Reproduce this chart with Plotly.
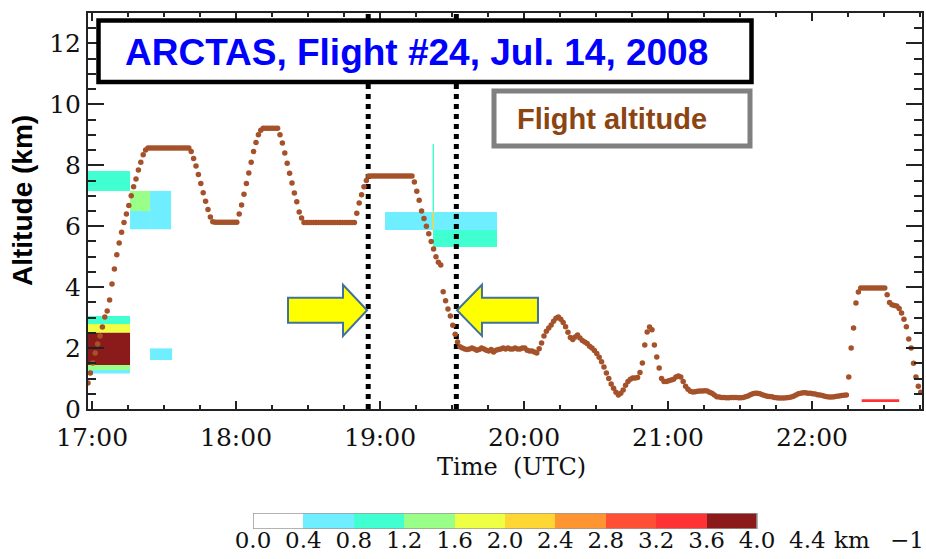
import plotly.graph_objects as go

W, H = 926, 559

# ---------------- data ----------------
# Flight altitude (km), one sample per minute, first sample at 16:58:20 UTC
flight_start_hour = 16.972
flight_alt_km = [
    0.85, 1.18, 1.51, 1.84, 2.13, 2.40, 2.69, 3.02, 3.22, 3.58,
    4.10, 4.60, 5.06, 5.45, 5.80, 6.12, 6.40, 6.68, 7.00, 7.30,
    7.55, 7.85, 8.10, 8.35, 8.50, 8.57, 8.57, 8.57, 8.57, 8.57,
    8.57, 8.57, 8.57, 8.57, 8.57, 8.57, 8.57, 8.57, 8.57, 8.57,
    8.57, 8.57, 8.57, 8.45, 8.22, 7.98, 7.70, 7.40, 7.10, 6.82,
    6.55, 6.30, 6.15, 6.13, 6.13, 6.13, 6.13, 6.13, 6.13, 6.13,
    6.13, 6.13, 6.13, 6.40, 6.70, 7.05, 7.40, 7.75, 8.10, 8.45,
    8.75, 9.00, 9.15, 9.22, 9.22, 9.22, 9.22, 9.22, 9.22, 9.22,
    9.00, 8.73, 8.40, 8.07, 7.74, 7.42, 7.09, 6.80, 6.47, 6.27,
    6.12, 6.12, 6.12, 6.12, 6.12, 6.12, 6.12, 6.12, 6.12, 6.12,
    6.12, 6.12, 6.12, 6.12, 6.12, 6.12, 6.12, 6.12, 6.12, 6.12,
    6.12, 6.12, 6.43, 6.76, 7.03, 7.30, 7.50, 7.65, 7.65, 7.65,
    7.65, 7.65, 7.65, 7.65, 7.65, 7.65, 7.65, 7.65, 7.65, 7.65,
    7.65, 7.65, 7.65, 7.65, 7.65, 7.65, 7.45, 7.15, 6.85, 6.50,
    6.25, 6.00, 5.75, 5.50, 5.25, 5.00, 4.82, 4.73, 3.85, 3.55,
    3.28, 3.05, 2.75, 2.45, 2.20, 2.04, 2.00, 1.97, 1.95, 1.97,
    2.00, 1.97, 1.93, 1.95, 2.00, 1.97, 1.93, 1.90, 1.95, 1.87,
    1.93, 1.95, 1.97, 2.00, 1.97, 2.00, 1.97, 1.97, 2.00, 1.97,
    1.97, 2.00, 2.00, 1.93, 1.90, 1.90, 1.87, 1.84, 1.98, 2.17,
    2.40, 2.55, 2.66, 2.76, 2.88, 2.98, 3.02, 2.95, 2.84, 2.70,
    2.52, 2.35, 2.28, 2.36, 2.43, 2.33, 2.25, 2.20, 2.15, 2.06,
    2.00, 1.92, 1.82, 1.70, 1.55, 1.38, 1.18, 1.00, 0.82, 0.68,
    0.55, 0.46, 0.52, 0.62, 0.78, 0.90, 0.98, 1.02, 1.02, 1.03,
    1.20, 1.51, 2.10, 2.53, 2.69, 2.60, 2.10, 1.71, 1.35, 1.00,
    0.90, 0.90, 0.93, 0.95, 0.98, 1.05, 1.08, 1.05, 0.90, 0.75,
    0.65, 0.58, 0.56, 0.57, 0.58, 0.59, 0.59, 0.60, 0.59, 0.55,
    0.52, 0.46, 0.40, 0.39, 0.38, 0.38, 0.37, 0.37, 0.38, 0.38,
    0.38, 0.37, 0.37, 0.38, 0.40, 0.43, 0.47, 0.50, 0.52, 0.52,
    0.50, 0.47, 0.44, 0.42, 0.41, 0.40, 0.38, 0.37, 0.36, 0.36,
    0.36, 0.37, 0.38, 0.39, 0.42, 0.46, 0.50, 0.52, 0.53, 0.53,
    0.52, 0.52, 0.50, 0.49, 0.47, 0.46, 0.44, 0.42, 0.40, 0.39,
    0.39, 0.40, 0.42, 0.43, 0.44, 0.45, 0.46, 1.05, 2.00, 2.66,
    3.48, 3.84, 3.97, 3.97, 3.97, 3.97, 3.97, 3.97, 3.97, 3.97,
    3.97, 3.97, 3.97, 3.75, 3.50, 3.42, 3.40, 3.38, 3.30, 3.15,
    2.95, 2.70, 2.30, 2.00, 1.50, 1.05, 0.75, 0.55,
]

# Extinction layers (time in hours UTC, altitude in km, value in km^-1)
layer_t_start = [16.972, 16.972, 16.972, 16.972, 16.972, 16.972,
                 17.264, 17.264, 17.403, 17.403,
                 19.035, 19.368, 19.368, 19.365, 19.365, 22.345]
layer_t_end   = [17.264, 17.264, 17.264, 17.264, 17.264, 17.264,
                 17.403, 17.403, 17.549, 17.556,
                 19.368, 19.8125, 19.8125, 19.375, 19.375, 22.606]
layer_alt_bot = [7.16, 2.79, 2.50, 1.445, 1.28, 1.165,
                 6.50, 5.90, 5.90, 1.61,
                 5.88, 5.88, 5.32, 6.48, 5.88, 0.23]
layer_alt_top = [7.81, 3.05, 2.79, 2.50, 1.445, 1.28,
                 7.16, 6.50, 7.16, 1.99,
                 6.47, 6.47, 5.88, 8.70, 6.48, 0.32]
layer_value   = [1.0, 1.0, 1.8, 3.8, 1.4, 0.6,
                 1.4, 0.6, 0.6, 0.6,
                 0.6, 0.6, 1.0, 1.0, 2.2, 3.4]

# Colour scale
cbar_edges = [0.0, 0.4, 0.8, 1.2, 1.6, 2.0, 2.4, 2.8, 3.2, 3.6, 4.0]
cbar_colors = ["#FFFFFF", "#6EEEFF", "#40FFD0", "#99FF88", "#EEFF44",
               "#FFD633", "#FF9433", "#FF5035", "#FF3333", "#8B1A1A"]
cbar_tick_vals = [0.0, 0.4, 0.8, 1.2, 1.6, 2.0, 2.4, 2.8, 3.2, 3.6, 4.0, 4.4]
cbar_tick_text = ["0.0", "0.4", "0.8", "1.2", "1.6", "2.0", "2.4", "2.8",
                  "3.2", "3.6", "4.0", "4.4"]

# Axes
x_range = [16.972, 22.764]
y_range = [0, 13]
hour_ticks = [17, 18, 19, 20, 21, 22]
hour_labels = ["17:00", "18:00", "19:00", "20:00", "21:00", "22:00"]
alt_ticks = [0, 2, 4, 6, 8, 10, 12]
alt_labels = ["0", "2", "4", "6", "8", "10", "12"]

# Marked time window (dotted lines) and arrows
window_times = [18.918, 19.530]
arrow_tail = [18.361, 20.097]
arrow_neck = [18.743, 19.708]
arrow_tip = [18.910, 19.535]
arrow_mid_alt = 3.24
arrow_body_half = 0.41
arrow_head_half = 0.84

# ---------------- figure ----------------
def color_for(v):
    for i in range(len(cbar_colors)):
        if cbar_edges[i] <= v < cbar_edges[i + 1]:
            return cbar_colors[i]
    return cbar_colors[-1]

fig = go.Figure()

for t0, t1, z0, z1, v in zip(layer_t_start, layer_t_end, layer_alt_bot,
                             layer_alt_top, layer_value):
    fig.add_trace(go.Scatter(
        x=[t0, t1, t1, t0, t0], y=[z0, z0, z1, z1, z0],
        mode="lines", fill="toself", fillcolor=color_for(v),
        line=dict(width=0), hoverinfo="skip", showlegend=False))

for t in window_times:
    fig.add_trace(go.Scatter(
        x=[t, t], y=y_range, mode="lines",
        line=dict(color="black", width=5, dash="dot"),
        hoverinfo="skip", showlegend=False))

flight_times = [flight_start_hour + k / 60.0 for k in range(len(flight_alt_km))]
fig.add_trace(go.Scatter(
    x=flight_times, y=flight_alt_km, mode="markers",
    marker=dict(size=5.5, color="#A5522B", line=dict(width=0)),
    showlegend=False, name="Flight altitude"))

# mirror axes (top / right) for ticks
fig.add_trace(go.Scatter(x=[], y=[], xaxis="x2", yaxis="y2", showlegend=False))

# colour bar
cscale = []
n = len(cbar_colors)
for i, c in enumerate(cbar_colors):
    cscale.append([i / n, c])
    cscale.append([(i + 1) / n, c])
cbar_mid = [(cbar_edges[i] + cbar_edges[i + 1]) / 2 for i in range(n)]
fig.add_trace(go.Heatmap(
    x=cbar_edges, y=[0, 1], z=[cbar_mid], colorscale=cscale,
    zmin=cbar_edges[0], zmax=cbar_edges[-1], showscale=False,
    xaxis="x3", yaxis="y3", hoverinfo="skip"))

axis_col = "#222222"
tick_font = dict(family="DejaVu Serif", size=25, color="#111111")

xdom = [88 / W, 922 / W]
ydom = [(H - 409) / H, (H - 13) / H]

xminor = dict(ticks="inside", ticklen=4, tickwidth=1.5, tickcolor=axis_col,
              dtick=0.25, tick0=17, showgrid=False)
yminor = dict(ticks="inside", ticklen=8, tickwidth=1.5, tickcolor=axis_col,
              dtick=0.5, tick0=0, showgrid=False)

fig.update_layout(
    width=W, height=H, margin=dict(l=0, r=0, t=0, b=0, autoexpand=False),
    paper_bgcolor="white", plot_bgcolor="white", showlegend=False,
    xaxis=dict(domain=xdom, range=x_range, tickmode="array",
               tickvals=hour_ticks, ticktext=hour_labels,
               ticks="inside", ticklen=8, tickwidth=1.5, tickcolor=axis_col,
               showline=True, linecolor=axis_col, linewidth=2,
               showgrid=False, zeroline=False, tickfont=tick_font,
               ticklabelstandoff=5, minor=xminor, anchor="y", automargin=False),
    yaxis=dict(domain=ydom, range=y_range, tickmode="array",
               tickvals=alt_ticks, ticktext=alt_labels,
               ticks="inside", ticklen=16, tickwidth=2, tickcolor=axis_col,
               showline=True, linecolor=axis_col, linewidth=2,
               showgrid=False, zeroline=False, tickfont=tick_font,
               ticklabelstandoff=0, minor=yminor, anchor="x", automargin=False),
    xaxis2=dict(overlaying="x", side="top", anchor="y", range=x_range,
                tickmode="array", tickvals=hour_ticks, showticklabels=False,
                ticks="inside", ticklen=8, tickwidth=1.5, tickcolor=axis_col,
                showline=True, linecolor=axis_col, linewidth=2,
                showgrid=False, zeroline=False, minor=xminor, automargin=False),
    yaxis2=dict(overlaying="y", side="right", anchor="x", range=y_range,
                tickmode="array", tickvals=alt_ticks, showticklabels=False,
                ticks="inside", ticklen=16, tickwidth=2, tickcolor=axis_col,
                showline=True, linecolor=axis_col, linewidth=2,
                showgrid=False, zeroline=False, minor=yminor, automargin=False),
    xaxis3=dict(domain=[253 / W, 807.4 / W], range=[0, 4.4],
                anchor="free", position=(H - 524) / H,
                tickmode="array", tickvals=cbar_tick_vals, ticktext=cbar_tick_text,
                ticks="", showline=False, showgrid=False, zeroline=False,
                tickfont=dict(family="DejaVu Serif", size=23, color="#111111"),
                ticklabelstandoff=0, automargin=False),
    yaxis3=dict(domain=[(H - 529) / H, (H - 513) / H], range=[0, 1],
                anchor="x3", visible=False, automargin=False),
)

# colour bar outline
fig.add_shape(type="rect", xref="x3", yref="y3", x0=cbar_edges[0], x1=cbar_edges[-1],
              y0=0, y1=1, line=dict(color="#9a9a9a", width=1.5), layer="above")

# arrows
for tail, neck, tip in zip(arrow_tail, arrow_neck, arrow_tip):
    ym = arrow_mid_alt
    pts = [(tail, ym + arrow_body_half), (neck, ym + arrow_body_half),
           (neck, ym + arrow_head_half), (tip, ym), (neck, ym - arrow_head_half),
           (neck, ym - arrow_body_half), (tail, ym - arrow_body_half)]
    path = "M " + " L ".join(f"{x},{y}" for x, y in pts) + " Z"
    fig.add_shape(type="path", xref="x", yref="y", path=path,
                  fillcolor="#FFFF00", line=dict(color="#41719C", width=2),
                  layer="above")

# title box and legend box
def px_x(p):
    return p / W

def px_y(p):
    return (H - p) / H

fig.add_shape(type="rect", xref="paper", yref="paper",
              x0=px_x(98.5), x1=px_x(751.5), y0=px_y(82), y1=px_y(20.5),
              line=dict(color="black", width=4.5), fillcolor="white", layer="above")
fig.add_shape(type="rect", xref="paper", yref="paper",
              x0=px_x(494), x1=px_x(750), y0=px_y(146), y1=px_y(91),
              line=dict(color="#808080", width=5), fillcolor="white", layer="above")

fig.add_annotation(xref="paper", yref="paper", x=px_x(416), y=px_y(52),
                   text="<b>ARCTAS, Flight #24, Jul. 14, 2008</b>", showarrow=False,
                   xanchor="center", yanchor="middle",
                   font=dict(family="Liberation Sans", size=37, color="#0000FF"))
fig.add_annotation(xref="paper", yref="paper", x=px_x(611.5), y=px_y(119),
                   text="<b>Flight altitude</b>", showarrow=False,
                   xanchor="center", yanchor="middle",
                   font=dict(family="Liberation Sans", size=29, color="#8B4513"))

# axis titles
fig.add_annotation(xref="paper", yref="paper", x=px_x(22), y=px_y(201),
                   text="<b>Altitude (km)</b>", textangle=-90, showarrow=False,
                   xanchor="center", yanchor="middle",
                   font=dict(family="Liberation Sans", size=28, color="black"))
fig.add_annotation(xref="paper", yref="paper", x=px_x(511), y=px_y(467),
                   text="Time\u00a0\u00a0(UTC)", showarrow=False,
                   xanchor="center", yanchor="middle",
                   font=dict(family="DejaVu Serif", size=24, color="#111111"))

# colour bar unit
fig.add_annotation(xref="paper", yref="paper", x=px_x(852), y=px_y(540),
                   text="km", showarrow=False, xanchor="center", yanchor="middle",
                   font=dict(family="DejaVu Serif", size=23, color="#111111"))
fig.add_annotation(xref="paper", yref="paper", x=px_x(907), y=px_y(540),
                   text="\u22121", showarrow=False, xanchor="center", yanchor="middle",
                   font=dict(family="DejaVu Serif", size=23, color="#111111"))

fig.write_html("out.html")
